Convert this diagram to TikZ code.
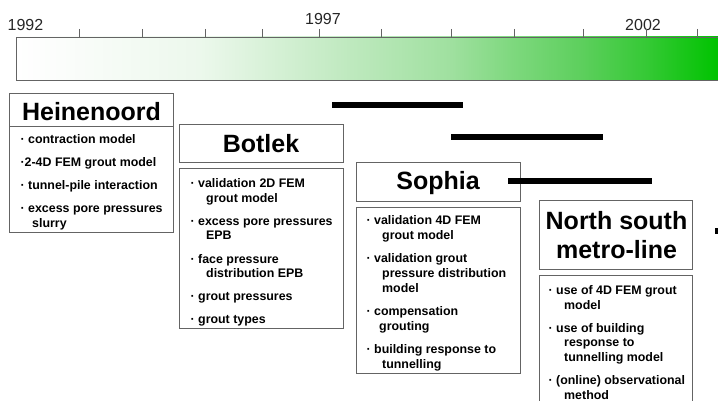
\documentclass[tikz,border=0pt]{standalone}
\usepackage{fontspec}
\setmainfont{Liberation Sans}
\definecolor{boxgray}{RGB}{100,100,100}
\definecolor{ga}{RGB}{251,253,251}
\definecolor{gb}{RGB}{236,248,236}
\definecolor{gc}{RGB}{200,236,200}
\definecolor{gd}{RGB}{159,224,159}
\definecolor{ge}{RGB}{125,216,125}
\definecolor{gf}{RGB}{92,207,92}
\definecolor{gg}{RGB}{53,201,53}
\definecolor{gh}{RGB}{0,195,0}
\pgfdeclarehorizontalshading{tlgreen}{100bp}{color(0bp)=(white); color(25bp)=(white); color(28.2bp)=(ga); color(38.1bp)=(gb); color(46.6bp)=(gc); color(56bp)=(gd); color(60.5bp)=(ge); color(65.4bp)=(gf); color(69.9bp)=(gg); color(75bp)=(gh); color(100bp)=(gh)}
\newcommand\bu{\makebox[7.5pt][l]{·}}
\newcommand\cont[1]{\hspace*{#1pt}}
\begin{document}
\begin{tikzpicture}[x=1pt,y=-1pt,
  bx/.style={draw=boxgray, line width=0.9pt, inner sep=0pt, anchor=north west},
  ttl/.style={font=\fontsize{25}{28}\selectfont\bfseries, inner sep=0pt, text height=17.9pt, text depth=0pt},
  itm/.style={font=\fontsize{12.4}{14.6}\selectfont\bfseries, inner sep=0pt, anchor=north west, align=left},
  yr/.style={font=\fontsize{16}{16}\selectfont, text=black!85, inner sep=0pt, text height=11.5pt, text depth=0pt},
  tick/.style={draw=boxgray, line width=0.9pt},
  bar/.style={line width=6pt, black}]
\useasboundingbox (0,0) rectangle (718,401);
% timeline
\fill[shading=tlgreen] (16,37) rectangle (718,80);
\draw[boxgray, line width=0.9pt] (720,37) -- (16,37) -- (16,80) -- (720,80);
\node[yr] (y92) at (25.5,25) {1992};
\node[yr] (y97) at (323,19) {1997};
\node[yr] (y02) at (643,25) {2002};
\foreach \x in {79,142,205,262,319,381,451,514,583,646,697}
  \draw[tick] (\x,29) -- (\x,37);
% boxes
\node[bx, minimum width=164pt, minimum height=33pt] (heinT) at (9,93) {};
\node[ttl] (heinL) at (91.5,112) {Heinenoord};
\node[bx, minimum width=164pt, minimum height=106pt] (heinB) at (9,126) {};
\node[itm] (heinI) at (20.5,134.5) {\bu contraction model\\[8.5pt]
\makebox[4pt][l]{·}2-4D FEM grout model\\[8.5pt]
\bu tunnel-pile interaction\\[8.5pt]
\bu excess pore pressures\\
\cont{11.5}slurry};

\node[bx, minimum width=164pt, minimum height=38pt] (botT) at (179,124) {};
\node[ttl] (botL) at (261,144) {Botlek};
\node[bx, minimum width=164pt, minimum height=160pt] (botB) at (179,168) {};
\node[itm] (botI) at (190.5,178.5) {\bu validation 2D FEM\\
\cont{15.5}grout model\\[8.5pt]
\bu excess pore pressures\\
\cont{15.5}EPB\\[8.5pt]
\bu face pressure\\
\cont{15.5}distribution EPB\\[8.5pt]
\bu grout pressures\\[8.5pt]
\bu grout types};

\node[bx, minimum width=164pt, minimum height=39pt] (sopT) at (356,162) {};
\node[ttl] (sopL) at (438,181) {Sophia};
\node[bx, minimum width=164pt, minimum height=166pt] (sopB) at (356,207) {};
\node[itm] (sopI) at (366.5,215.5) {\bu validation 4D FEM\\
\cont{15.5}grout model\\[9pt]
\bu validation grout\\
\cont{15.5}pressure distribution\\
\cont{15.5}model\\[9pt]
\bu compensation\\
\cont{12.5}grouting\\[9pt]
\bu building response to\\
\cont{15.5}tunnelling};

\node[bx, minimum width=153pt, minimum height=69pt] (nsT) at (539,200) {};
\node[ttl] (nsL1) at (616.5,221) {North south};
\node[ttl] (nsL2) at (616.5,249.5) {metro-line};
\node[bx, minimum width=153pt, minimum height=140pt] (nsB) at (539,275) {};
\node[itm] (nsI) at (548.5,285.5) {\bu use of 4D FEM grout\\
\cont{15.5}model\\[8.5pt]
\bu use of building\\
\cont{15.5}response to\\
\cont{15.5}tunnelling model\\[8.5pt]
\bu (online) observational\\
\cont{15.5}method};
% period bars
\draw[bar] (332,105.5) -- (463,105.5);
\draw[bar] (451,137) -- (603,137);
\draw[bar] (508,181) -- (652,181);
\draw[bar] (715,231) -- (722,231);
\end{tikzpicture}
\end{document}
